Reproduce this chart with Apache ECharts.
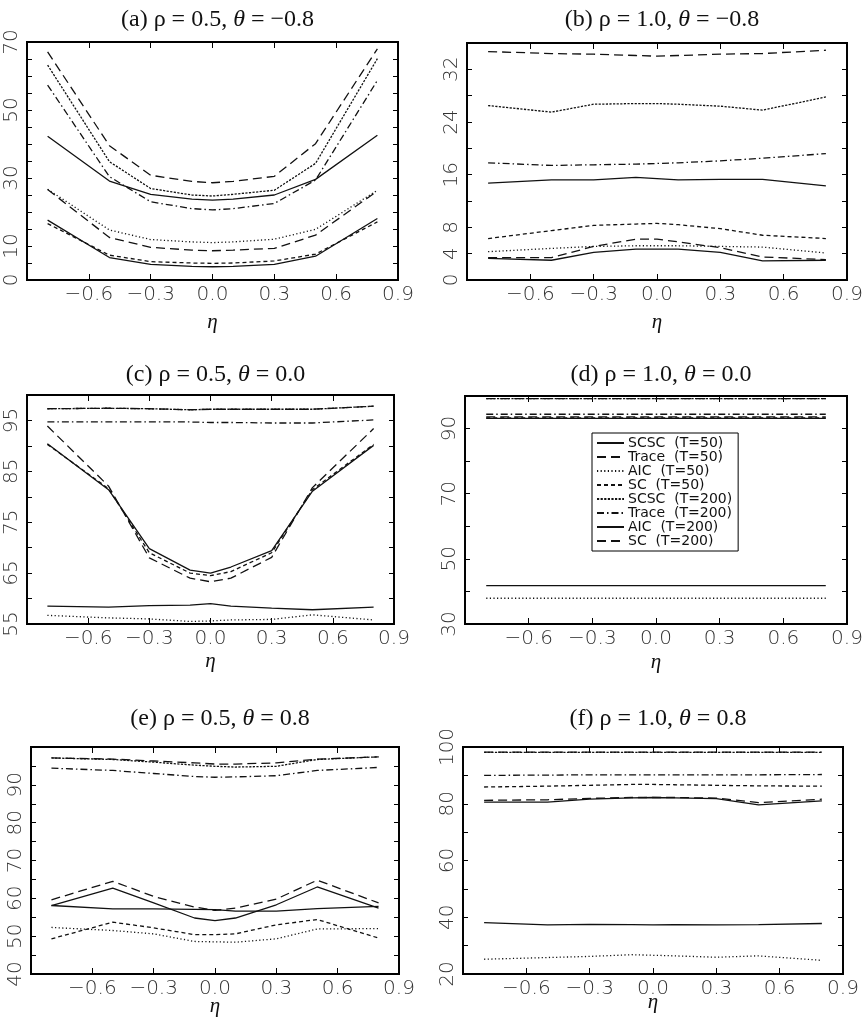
<!DOCTYPE html>
<html>
<head>
<meta charset="utf-8">
<title>SCSC vs Trace / AIC / SC</title>
<script src="https://cdn.jsdelivr.net/npm/echarts@6.0.0/dist/echarts.min.js"></script>
<style>
  html, body { margin: 0; padding: 0; background: #fff; }
  #main { width: 867px; height: 1024px; }
</style>
</head>
<body>
<div id="main"></div>
<script>
// eta grid (x values)
const etaValues = [-0.8, -0.5, -0.3, -0.1, 0.0, 0.1, 0.3, 0.5, 0.8];

const seriesNames = [
  "SCSC (T=50)", "Trace (T=50)", "AIC (T=50)", "SC (T=50)",
  "SCSC (T=200)", "Trace (T=200)", "AIC (T=200)", "SC (T=200)"
];

const panelTitles = [
  "(a) ρ = 0.5, {i|θ} = −0.8",
  "(b) ρ = 1.0, {i|θ} = −0.8",
  "(c) ρ = 0.5, {i|θ} = 0.0",
  "(d) ρ = 1.0, {i|θ} = 0.0",
  "(e) ρ = 0.5, {i|θ} = 0.8",
  "(f) ρ = 1.0, {i|θ} = 0.8"
];

// values per panel, rows in the order of seriesNames
const panelA = [
  [17.6, 6.6, 4.6, 4.0, 3.9, 4.0, 4.6, 7.0, 18.1],
  [26.6, 12.5, 9.6, 8.8, 8.6, 8.8, 9.3, 13.2, 26.2],
  [26.7, 14.7, 11.9, 11.2, 11.0, 11.2, 12.0, 14.9, 26.4],
  [16.6, 7.3, 5.4, 5.0, 4.9, 5.0, 5.6, 7.6, 17.1],
  [63.2, 34.8, 26.9, 25.0, 24.7, 25.2, 26.4, 34.3, 65.1],
  [57.3, 30.4, 23.0, 21.0, 20.6, 21.0, 22.5, 29.4, 58.7],
  [42.3, 29.1, 25.2, 23.8, 23.5, 23.8, 25.0, 29.6, 42.6],
  [67.1, 39.5, 30.8, 29.0, 28.6, 29.0, 30.5, 40.1, 68.0]
];
const panelB = [
  [3.3, 3.0, 4.2, 4.7, 4.7, 4.7, 4.2, 2.9, 3.0],
  [3.4, 3.4, 5.1, 6.2, 6.2, 5.8, 4.9, 3.5, 3.1],
  [4.3, 4.8, 5.1, 5.2, 5.2, 5.2, 5.1, 5.0, 4.1],
  [6.3, 7.5, 8.3, 8.5, 8.6, 8.4, 7.8, 6.8, 6.3],
  [26.5, 25.5, 26.7, 26.8, 26.8, 26.7, 26.4, 25.8, 27.8],
  [17.8, 17.4, 17.5, 17.6, 17.7, 17.8, 18.1, 18.5, 19.2],
  [14.7, 15.2, 15.2, 15.6, 15.4, 15.2, 15.3, 15.3, 14.3],
  [34.7, 34.4, 34.3, 34.1, 34.0, 34.1, 34.3, 34.4, 34.9]
];
const panelC = [
  [90.4, 81.4, 69.8, 65.6, 65.0, 66.2, 69.4, 81.1, 90.1],
  [93.9, 82.1, 68.0, 64.0, 63.3, 64.0, 68.1, 81.8, 93.4],
  [56.7, 56.2, 56.0, 55.5, 55.6, 55.8, 55.9, 56.8, 55.8],
  [90.3, 81.6, 69.0, 65.0, 64.5, 65.3, 69.0, 81.4, 90.3],
  [97.3, 97.4, 97.3, 97.1, 97.2, 97.2, 97.2, 97.2, 97.8],
  [94.7, 94.7, 94.7, 94.7, 94.6, 94.6, 94.5, 94.5, 95.1],
  [58.5, 58.3, 58.6, 58.7, 59.0, 58.5, 58.1, 57.8, 58.3],
  [97.3, 97.4, 97.3, 97.1, 97.2, 97.2, 97.2, 97.2, 97.8]
];
const panelD = [
  [93.1, 93.1, 93.1, 93.1, 93.1, 93.1, 93.1, 93.1, 93.1],
  [93.6, 93.6, 93.6, 93.6, 93.6, 93.6, 93.6, 93.6, 93.6],
  [37.9, 37.9, 37.9, 37.9, 37.9, 37.9, 37.9, 37.9, 37.9],
  [93.3, 93.3, 93.3, 93.3, 93.3, 93.3, 93.3, 93.3, 93.3],
  [99.2, 99.2, 99.2, 99.2, 99.2, 99.2, 99.2, 99.2, 99.2],
  [94.4, 94.4, 94.4, 94.4, 94.4, 94.4, 94.4, 94.4, 94.4],
  [41.8, 41.8, 41.8, 41.8, 41.8, 41.8, 41.8, 41.8, 41.8],
  [99.2, 99.2, 99.2, 99.2, 99.2, 99.2, 99.2, 99.2, 99.2]
];
const panelE = [
  [58.1, 62.7, 58.8, 54.8, 54.1, 54.8, 58.3, 63.0, 57.4],
  [59.6, 64.5, 60.5, 57.7, 56.8, 57.4, 59.8, 64.8, 58.8],
  [52.3, 51.5, 50.6, 48.6, 48.5, 48.4, 49.3, 51.9, 52.0],
  [49.3, 53.7, 52.2, 50.4, 50.4, 50.6, 53.0, 54.4, 49.5],
  [97.1, 96.7, 96.0, 95.2, 94.9, 94.7, 94.9, 96.7, 97.4],
  [94.4, 93.8, 93.0, 92.2, 92.0, 92.1, 92.4, 93.8, 94.6],
  [58.1, 57.2, 57.2, 57.1, 57.0, 56.6, 56.6, 57.3, 57.9],
  [97.1, 96.8, 96.3, 95.8, 95.5, 95.5, 95.8, 96.8, 97.4]
];
const panelF = [
  [80.6, 80.6, 81.6, 82.1, 82.2, 82.1, 81.8, 79.6, 81.0],
  [81.2, 81.4, 81.9, 82.2, 82.2, 82.2, 82.0, 80.4, 81.6],
  [25.2, 25.8, 26.2, 26.8, 26.6, 26.4, 25.9, 26.4, 24.8],
  [85.9, 86.2, 86.5, 86.8, 86.8, 86.7, 86.5, 86.3, 86.2],
  [98.1, 98.1, 98.1, 98.1, 98.1, 98.1, 98.1, 98.1, 98.1],
  [90.0, 90.1, 90.2, 90.2, 90.2, 90.2, 90.2, 90.2, 90.3],
  [38.1, 37.3, 37.5, 37.4, 37.3, 37.4, 37.3, 37.4, 37.8],
  [98.2, 98.2, 98.2, 98.2, 98.2, 98.2, 98.2, 98.2, 98.2]
];
const panelData = [panelA, panelB, panelC, panelD, panelE, panelF];

// y axis range / tick step and which ticks carry a label
const yMin = [0, 0, 55, 30, 40, 20];
const yMax = [70, 36, 100, 100, 100, 100];
const yStep = [5, 4, 5, 10, 5, 10];
const yTickLabels = [
  [0, 10, 30, 50, 70],
  [0, 4, 8, 16, 24, 32],
  [55, 65, 75, 85, 95],
  [30, 50, 70, 90],
  [40, 50, 60, 70, 80, 90],
  [20, 40, 60, 80, 100]
];
const xTickLabels = [-0.6, -0.3, 0.0, 0.3, 0.6, 0.9];

// layout of the six boxes
const boxes = [
  { left: 27, top: 42, width: 371, height: 238 },
  { left: 467, top: 43, width: 380, height: 237 },
  { left: 27, top: 395, width: 367, height: 229 },
  { left: 465, top: 396, width: 382, height: 228 },
  { left: 31, top: 747, width: 368, height: 227 },
  { left: 463, top: 747, width: 380, height: 227 }
];
const titleTops = [3, 3, 358, 358, 702, 702];
const etaGaps = [32, 32, 27, 28, 22, 18];

const ink = "#111";
const lineTypes = [
  "solid",          // SCSC T=50
  [9, 5],           // Trace T=50
  [1.2, 2.4],       // AIC T=50
  [4, 3],           // SC T=50
  [2.2, 1.4],       // SCSC T=200
  [7, 3, 1.5, 3],   // Trace T=200
  "solid",          // AIC T=200
  [9, 5]            // SC T=200
];

const tickFont = { fontFamily: "DejaVu Sans", fontWeight: 200, fontSize: 20, color: "#333" };
const minus = v => (v < 0 ? "\u2212" : "") + Math.abs(v).toFixed(1);

let grid = [], xAxis = [], yAxis = [], title = [], series = [];

boxes.forEach((b, i) => {
  grid.push(Object.assign({ show: true, borderColor: "#000", borderWidth: 1.8 }, b));

  title.push({
    text: panelTitles[i],
    left: b.left + b.width / 2,
    top: titleTops[i],
    textAlign: "center",
    textStyle: {
      fontFamily: "Liberation Serif", fontSize: 24, fontWeight: "normal", color: ink,
      rich: { i: { fontFamily: "Liberation Serif", fontSize: 24, fontStyle: "italic", color: ink } }
    }
  });

  const xBase = {
    gridIndex: i, type: "value", min: -0.9, max: 0.9, interval: 0.3,
    splitLine: { show: false },
    axisLine: { show: true, onZero: false, lineStyle: { color: "#000", width: 1.8 } },
    axisTick: { show: true, inside: true, length: 6, lineStyle: { color: "#000" } }
  };
  xAxis.push(Object.assign({}, xBase, {
    position: "bottom",
    name: "η", nameLocation: "middle", nameGap: etaGaps[i], nameMoveOverlap: false,
    nameTextStyle: { fontFamily: "Liberation Serif", fontStyle: "italic", fontSize: 21, color: ink },
    axisLabel: Object.assign({
      margin: 5,
      formatter: v => xTickLabels.some(t => Math.abs(t - v) < 1e-6) ? minus(v) : ""
    }, tickFont)
  }));
  xAxis.push(Object.assign({}, xBase, { position: "top", axisLabel: { show: false } }));

  const yBase = {
    gridIndex: i, type: "value", min: yMin[i], max: yMax[i], interval: yStep[i],
    splitLine: { show: false },
    axisLine: { show: true, onZero: false, lineStyle: { color: "#000", width: 1.8 } },
    axisTick: { show: true, inside: true, length: 5, lineStyle: { color: "#000" } }
  };
  yAxis.push(Object.assign({}, yBase, {
    position: "left",
    axisLabel: Object.assign({
      rotate: 90, margin: 5,
      formatter: v => yTickLabels[i].some(t => Math.abs(t - v) < 1e-6) ? String(v) : ""
    }, tickFont)
  }));
  yAxis.push(Object.assign({}, yBase, { position: "right", axisLabel: { show: false } }));

  panelData[i].forEach((vals, s) => {
    series.push({
      name: seriesNames[s],
      type: "line",
      xAxisIndex: 2 * i,
      yAxisIndex: 2 * i,
      data: etaValues.map((x, k) => [x, vals[k]]),
      symbol: "none",
      silent: true,
      itemStyle: { color: ink, opacity: 0 },
      lineStyle: { color: ink, width: 1.3, type: lineTypes[s] }
    });
  });
});

const chart = echarts.init(document.getElementById("main"), null, { renderer: "canvas" });
chart.setOption({
  backgroundColor: "#fff",
  animation: false,
  title: title,
  grid: grid,
  xAxis: xAxis,
  yAxis: yAxis,
  legend: {
    data: seriesNames,
    orient: "vertical",
    left: 592,
    top: 433,
    padding: [3, 6, 3, 4],
    itemGap: 0,
    itemWidth: 27,
    itemHeight: 12,
    borderColor: "#000",
    borderWidth: 1,
    backgroundColor: "#fff",
    selectedMode: false,
    itemStyle: { opacity: 0 },
    formatter: name => name.replace(" ", "  "),
    textStyle: { fontFamily: "DejaVu Sans", fontSize: 14, lineHeight: 13.5, color: ink, padding: [0, 0, 0, -1] }
  },
  series: series
});
</script>
</body>
</html>
